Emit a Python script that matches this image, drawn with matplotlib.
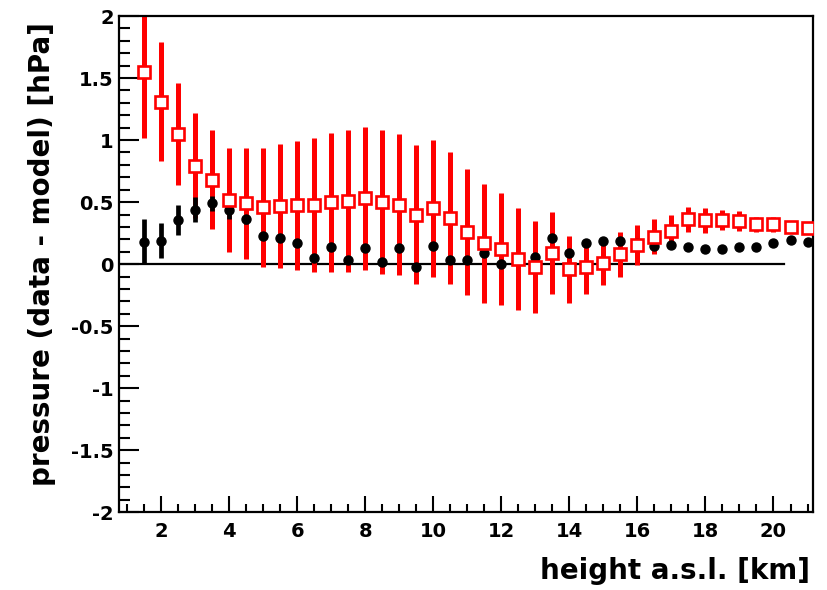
import matplotlib
matplotlib.use("Agg")
import matplotlib.pyplot as plt
from matplotlib.ticker import MultipleLocator

# ---- data ----
heights = [1.5, 2.0, 2.5, 3.0, 3.5, 4.0, 4.5, 5.0, 5.5, 6.0,
           6.5, 7.0, 7.5, 8.0, 8.5, 9.0, 9.5, 10.0, 10.5, 11.0,
           11.5, 12.0, 12.5, 13.0, 13.5, 14.0, 14.5, 15.0, 15.5, 16.0,
           16.5, 17.0, 17.5, 18.0, 18.5, 19.0, 19.5, 20.0, 20.5, 21.0]

red_vals = [1.55, 1.31, 1.05, 0.795, 0.68, 0.52, 0.49, 0.46, 0.465, 0.475,
            0.48, 0.50, 0.51, 0.53, 0.50, 0.48, 0.40, 0.45, 0.37, 0.26,
            0.17, 0.12, 0.04, -0.02, 0.09, -0.04, -0.02, 0.01, 0.08, 0.155,
            0.22, 0.27, 0.36, 0.355, 0.355, 0.35, 0.32, 0.32, 0.30, 0.29]
red_err = [0.53, 0.48, 0.41, 0.42, 0.40, 0.42, 0.45, 0.48, 0.50, 0.52,
           0.54, 0.56, 0.57, 0.575, 0.58, 0.57, 0.56, 0.55, 0.53, 0.51,
           0.48, 0.45, 0.41, 0.37, 0.33, 0.27, 0.22, 0.18, 0.18, 0.16,
           0.14, 0.13, 0.10, 0.10, 0.08, 0.08, 0.06, 0.06, 0.05, 0.05]

black_vals = [0.18, 0.19, 0.355, 0.44, 0.49, 0.44, 0.36, 0.23, 0.21, 0.17,
              0.05, 0.14, 0.03, 0.13, 0.02, 0.13, -0.02, 0.15, 0.03, 0.03,
              0.09, 0.005, 0.03, 0.06, 0.21, 0.09, 0.17, 0.19, 0.19, 0.17,
              0.15, 0.155, 0.135, 0.12, 0.12, 0.135, 0.14, 0.17, 0.195, 0.18]
black_err = [0.18, 0.14, 0.12, 0.10, 0.06, 0.08, 0.04, 0.03, 0.03, 0.03,
             0.03, 0.03, 0.03, 0.03, 0.03, 0.03, 0.03, 0.03, 0.03, 0.03,
             0.03, 0.03, 0.03, 0.03, 0.03, 0.03, 0.03, 0.03, 0.03, 0.03,
             0.03, 0.03, 0.03, 0.03, 0.03, 0.03, 0.03, 0.03, 0.03, 0.03]

x_range = (0.77, 21.17)
y_range = (-2.0, 2.0)
zero_line_end = 20.3

# ---- figure ----
plt.rcParams['font.family'] = ['DejaVu Sans']
fig = plt.figure(figsize=(8.27, 5.90), dpi=100)
ax = fig.add_axes([119.3 / 827, 1 - 512.3 / 590, (813.3 - 119.3) / 827, (512.3 - 16) / 590])

# zero reference line
ax.plot([x_range[0], zero_line_end], [0, 0], color='black', lw=1.6, zorder=1)

# red error bars
ax.errorbar(heights, red_vals, yerr=red_err, fmt='none', ecolor='#ff0000',
            elinewidth=3.6, capsize=0, zorder=2)
# black points with error bars
ax.errorbar(heights, black_vals, yerr=black_err, fmt='o', color='black',
            ms=6.5, elinewidth=3.4, capsize=0, zorder=3)
# red open squares
ax.plot(heights, red_vals, 's', ms=8.6, mfc='white', mec='#ff0000', mew=1.9,
        ls='none', zorder=4)

ax.set_xlim(*x_range)
ax.set_ylim(*y_range)

ax.xaxis.set_major_locator(MultipleLocator(2))
ax.xaxis.set_minor_locator(MultipleLocator(0.5))
ax.yaxis.set_major_locator(MultipleLocator(0.5))
ax.yaxis.set_minor_locator(MultipleLocator(0.1))

ax.yaxis.set_major_formatter(plt.FuncFormatter(lambda v, p: f"{v:g}"))

ax.tick_params(axis='x', which='major', direction='in', length=11.5, width=1.5,
               labelsize=14, pad=7, top=False)
ax.tick_params(axis='x', which='minor', direction='in', length=5.8, width=1.5, top=False)
ax.tick_params(axis='y', which='major', direction='in', length=14.4, width=1.5,
               labelsize=14, pad=4, right=False)
ax.tick_params(axis='y', which='minor', direction='in', length=8, width=1.5, right=False)
for lab in ax.get_xticklabels() + ax.get_yticklabels():
    lab.set_fontweight('bold')

for s in ax.spines.values():
    s.set_linewidth(1.6)

fig.text(42 / 827, 1 - 22 / 590, 'pressure (data - model) [hPa]', rotation=90,
         ha='center', va='top', fontsize=20, fontweight='bold')
fig.text(810 / 827, 1 - 571 / 590, 'height a.s.l. [km]', ha='right', va='center',
         fontsize=20, fontweight='bold')

fig.savefig('out.png', dpi=100)
